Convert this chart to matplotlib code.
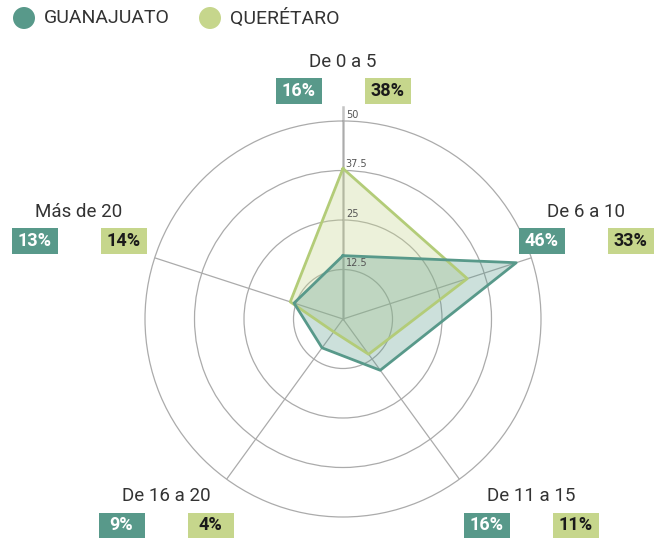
import matplotlib
matplotlib.use("Agg")
import matplotlib.pyplot as plt
import numpy as np
from matplotlib.patches import Rectangle, Ellipse

# age ranges and shares per state
categories = ["De 0 a 5", "De 6 a 10", "De 11 a 15", "De 16 a 20", "Más de 20"]
guanajuato = [16, 46, 16, 9, 13]
queretaro = [38, 33, 11, 4, 14]
ring_ticks = [12.5, 25, 37.5, 50]
ring_labels = ["12.5", "25", "37.5", "50"]

TEAL = "#58998a"
LIME = "#c6d68c"
GRID = "#ababab"

W, H = 665, 539
fig = plt.figure(figsize=(W / 100, H / 100), dpi=100)

# polar axes: centre at (343, 319) px, radius 198 px for the value 50
cx, cy, R = 343, 319, 198
ax = fig.add_axes([(cx - R) / W, (H - cy - R) / H, 2 * R / W, 2 * R / H],
                  projection="polar")
ax.set_theta_zero_location("N")
ax.set_theta_direction(-1)

angles = np.linspace(0, 2 * np.pi, len(categories), endpoint=False)
ax.set_ylim(0, 50)
ax.set_xticks(angles)
ax.set_xticklabels([])
ax.set_yticks(ring_ticks[:-1])
ax.set_yticklabels([])
ax.grid(True, color=GRID, lw=0.9)
ax.spines["polar"].set_color(GRID)
ax.spines["polar"].set_linewidth(0.9)
ax.set_facecolor("none")

# top axis sticks out a bit past the outer ring
ax.plot([0, 0], [0, 53.5], color="#c4c4c4", lw=1.8, clip_on=False, zorder=1)

for r, lab in zip(ring_ticks, ring_labels):
    ax.annotate(lab, (0, r), xytext=(2, 1), textcoords="offset points",
                ha="left", va="bottom", fontsize=7, color="#555555",
                annotation_clip=False, zorder=6)

th = np.append(angles, angles[0])
q = np.append(queretaro, queretaro[0])
g = np.append(guanajuato, guanajuato[0])
ax.fill(th, q, color=LIME, alpha=0.32, lw=0, zorder=2)
ax.fill(th, g, color=TEAL, alpha=0.3, lw=0, zorder=3)
ax.plot(th, q, color="#b3cc78", lw=2, zorder=4)
ax.plot(th, g, color=TEAL, lw=2, zorder=5)

# category titles and percentage boxes (pixel positions)
label_pos = [(343, 62), (586, 212), (531, 496), (166, 496), (79, 212)]
box_w, box_h, gap = 46, 25, 89
font = ["Roboto", "DejaVu Sans"]


def fx(x):
    return x / W


def fy(y):
    return (H - y) / H


for cat, (lx, ly), gv, qv in zip(categories, label_pos, guanajuato, queretaro):
    fig.text(fx(lx), fy(ly), cat, ha="center", va="center", fontsize=13.5,
             color="#333333", family=font)
    bx = lx - gap / 2
    for x0, val, fc, tc in [(bx, gv, TEAL, "white"), (bx + gap, qv, LIME, "#1a1a1a")]:
        fig.patches.append(Rectangle((fx(x0 - box_w / 2), fy(ly + 29 + box_h / 2)),
                                     box_w / W, box_h / H, transform=fig.transFigure,
                                     facecolor=fc, edgecolor="none"))
        fig.text(fx(x0), fy(ly + 29), f"{val}%", ha="center", va="center",
                 fontsize=13, fontweight="bold", color=tc, family=font)

# legend
for x0, name, c in [(24, "GUANAJUATO", TEAL), (210, "QUERÉTARO", LIME)]:
    fig.patches.append(Ellipse((fx(x0), fy(18)), 22 / W, 22 / H,
                               transform=fig.transFigure,
                               facecolor=c, edgecolor="none"))
    fig.text(fx(x0 + 20), fy(18), name, ha="left", va="center", fontsize=14,
             color="#333333", family=font)

fig.savefig("out.png", dpi=100)
